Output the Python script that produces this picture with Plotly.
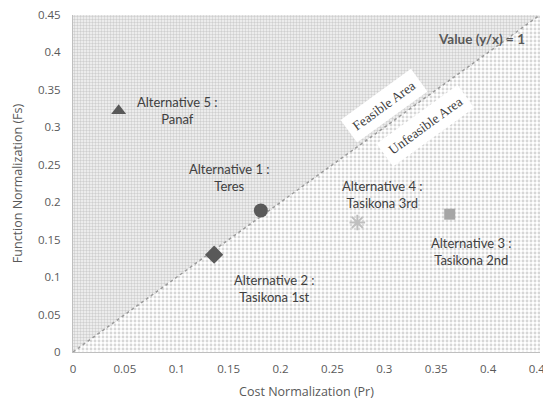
import plotly.graph_objects as go

# Data
alt_names = ["Alternative 1 :<br>Teres", "Alternative 2 :<br>Tasikona 1st",
             "Alternative 3 :<br>Tasikona 2nd", "Alternative 4 :<br>Tasikona 3rd",
             "Alternative 5 :<br>Panaf"]
cost_pr = [0.181, 0.136, 0.363, 0.274, 0.044]
func_fs = [0.189, 0.130, 0.184, 0.173, 0.322]
marker_symbols = ["circle", "diamond", "square", "asterisk-open", "triangle-up"]
marker_colors = ["#595959", "#595959", "#a6a6a6", "#bfbfbf", "#595959"]
marker_sizes = [14, 14, 11, 13, 13]
label_x = [0.151, 0.194, 0.384, 0.298, 0.101]
label_y = [0.233, 0.085, 0.134, 0.210, 0.322]
tick_vals = [0, 0.05, 0.1, 0.15, 0.2, 0.25, 0.3, 0.35, 0.4, 0.45]
tick_text = ["0", "0.05", "0.1", "0.15", "0.2", "0.25", "0.3", "0.35", "0.4", "0.45"]
axis_max = 0.45

fig = go.Figure()

# Feasible region (above y = x)
fig.add_trace(go.Scatter(
    x=[0, axis_max, 0, 0], y=[0, axis_max, axis_max, 0],
    mode="lines", line=dict(width=0), fill="toself",
    fillcolor="rgba(0,0,0,0)",
    fillpattern=dict(shape=".", size=3, solidity=0.5, fgcolor="#a8a8a8", bgcolor="#f6f6f6"),
    hoverinfo="skip", showlegend=False))
# Unfeasible region (below y = x)
fig.add_trace(go.Scatter(
    x=[0, axis_max, axis_max, 0], y=[0, 0, axis_max, 0],
    mode="lines", line=dict(width=0), fill="toself",
    fillcolor="rgba(0,0,0,0)",
    fillpattern=dict(shape=".", size=4, solidity=0.4, fgcolor="#b0b0b0", bgcolor="#ffffff"),
    hoverinfo="skip", showlegend=False))
# y/x = 1 line
fig.add_trace(go.Scatter(
    x=[0, axis_max], y=[0, axis_max], mode="lines",
    line=dict(color="#9a9a9a", width=1.5, dash="dot"),
    hoverinfo="skip", showlegend=False))

for i in range(len(alt_names)):
    sym = marker_symbols[i]
    if sym.startswith("asterisk"):
        marker = dict(symbol=sym, size=marker_sizes[i], color=marker_colors[i],
                      line=dict(color=marker_colors[i], width=2))
    else:
        marker = dict(symbol=sym, size=marker_sizes[i], color=marker_colors[i],
                      line=dict(width=0))
    fig.add_trace(go.Scatter(x=[cost_pr[i]], y=[func_fs[i]], mode="markers",
                             marker=marker, showlegend=False))
    fig.add_annotation(x=label_x[i], y=label_y[i], text=alt_names[i], showarrow=False,
                       font=dict(family="Lato", size=13, color="#404040"),
                       align="center")

fig.add_annotation(x=0.437, y=0.418, xanchor="right", text="<b>Value (y/x) = 1</b>",
                   showarrow=False, font=dict(family="Lato", size=13.5, color="#595959"))
fig.add_annotation(x=0.300, y=0.329, text="Feasible Area", textangle=-36, showarrow=False,
                   bgcolor="white", borderpad=6,
                   font=dict(family="Liberation Serif", size=13.5, color="#404040"))
fig.add_annotation(x=0.340, y=0.302, text="Unfeasible Area", textangle=-36, showarrow=False,
                   bgcolor="white", borderpad=6,
                   font=dict(family="Liberation Serif", size=13.5, color="#404040"))

axis_common = dict(range=[0, axis_max], tickvals=tick_vals, ticktext=tick_text,
                   showgrid=False, zeroline=False, showline=True, linecolor="#bfbfbf",
                   linewidth=1, ticks="outside", tickcolor="rgba(0,0,0,0)", automargin=False,
                   ticklabeloverflow="allow",
                   tickfont=dict(family="Open Sans", size=11.5, color="#595959"),
                   title_font=dict(family="Open Sans", size=12.5, color="#595959"))
fig.update_xaxes(**axis_common, ticklen=6, title_text="Cost Normalization (Pr)", title_standoff=12)
fig.update_yaxes(**axis_common, ticklen=9, title_text="Function Normalization (Fs)", title_standoff=12)

# page body has an 8px margin, so the figure is sized/offset to land plot where the reference has it
fig.update_layout(width=543, height=397, margin=dict(l=65, r=11, t=7, b=53),
                  paper_bgcolor="white", plot_bgcolor="white")

fig.write_html("out.html")
